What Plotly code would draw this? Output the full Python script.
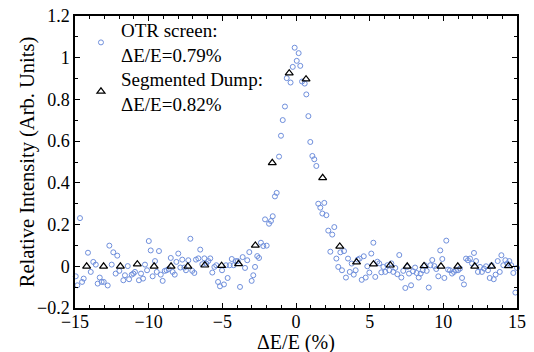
import plotly.graph_objects as go

# OTR screen data (ΔE/E %, relative intensity)
otr_x = [-14.95, -14.84, -14.66, -14.52, -14.41, -14.12, -13.93, -13.76, -13.59, -13.46,
         -13.32, -13.19, -13.05, -12.78, -12.67, -12.51, -12.40, -12.24, -12.13, -11.99,
         -11.72, -11.61, -11.42, -11.33, -11.15, -11.04, -10.93, -10.66, -10.52, -10.38,
         -10.25, -10.11, -9.99, -9.86, -9.73, -9.57, -9.45, -9.30, -9.18, -9.05,
         -8.91, -8.78, -8.64, -8.50, -8.37, -8.23, -8.12, -7.99, -7.85, -7.72,
         -7.58, -7.47, -7.31, -7.17, -7.04, -6.90, -6.79, -6.63, -6.50, -6.36,
         -6.22, -6.09, -5.95, -5.82, -5.68, -5.54, -5.41, -5.29, -5.16, -5.02,
         -4.89, -4.75, -4.64, -4.50, -4.36, -4.23, -4.09, -3.96, -3.80, -3.62,
         -3.46, -3.31, -3.17, -3.01, -2.90, -2.78, -2.63, -2.51, -2.38, -2.22,
         -2.10, -1.99, -1.83, -1.70, -1.58, -1.43, -1.31, -1.15, -1.02, -0.90,
         -0.75, -0.63, -0.37, -0.22, -0.09, 0.05, 0.18, 0.29, 0.41, 0.59,
         0.70, 0.84, 0.97, 1.11, 1.24, 1.38, 1.51, 1.65, 1.79, 1.92,
         2.06, 2.19, 2.33, 2.46, 2.60, 2.74, 2.87, 3.01, 3.12, 3.26,
         3.39, 3.53, 3.65, 3.78, 3.92, 4.05, 4.19, 4.32, 4.46, 4.60,
         4.73, 4.84, 4.98, 5.11, 5.25, 5.38, 5.52, 5.65, 5.79, 5.93,
         6.06, 6.20, 6.33, 6.47, 6.60, 6.74, 6.88, 7.01, 7.15, 7.28,
         7.42, 7.55, 7.67, 7.81, 7.94, 8.08, 8.19, 8.33, 8.46, 8.60,
         8.74, 8.87, 9.01, 9.12, 9.25, 9.39, 9.52, 9.66, 9.79, 9.93,
         10.07, 10.20, 10.32, 10.45, 10.59, 10.72, 10.86, 11.00, 11.13, 11.27,
         11.40, 11.54, 11.67, 11.81, 11.95, 12.08, 12.22, 12.35, 12.49, 12.62,
         12.76, 12.90, 13.03, 13.15, 13.28, 13.42, 13.55, 13.69, 13.83, 13.94,
         14.07, 14.21, 14.34, 14.48, 14.61, 14.75, 14.89, 15.00]
otr_y = [-0.048, -0.091, 0.231, -0.075, -0.059, 0.065, -0.027, 0.021, 0.008, -0.083,
         -0.054, -0.075, -0.075, -0.092, 0.099, 0.008, 0.067, -0.035, 0.051, -0.022,
         -0.067, -0.043, 0.001, -0.062, -0.040, -0.035, -0.027, -0.067, -0.035, -0.059,
         0.008, -0.019, 0.121, 0.076, -0.048, 0.025, -0.027, 0.073, -0.040, -0.070,
         -0.022, -0.019, -0.013, 0.040, -0.027, -0.040, 0.021, 0.061, -0.006, 0.032,
         -0.006, -0.019, 0.029, 0.132, -0.022, -0.032, 0.032, 0.038, 0.080, 0.010,
         0.038, 0.013, 0.025, 0.038, -0.030, -0.003, 0.005, -0.075, -0.096, -0.019,
         -0.087, 0.005, -0.056, 0.005, 0.035, 0.005, 0.025, 0.025, -0.099, 0.044,
         -0.008, 0.029, 0.068, -0.070, -0.043, -0.003, 0.049, 0.040, 0.113, 0.097,
         0.225, 0.099, 0.204, 0.217, 0.240, 0.335, 0.352, 0.526, 0.626, 0.701,
         0.766, 0.902, 0.881, 0.956, 1.048, 0.985, 1.022, 0.961, 0.886, 0.876,
         0.824, 0.720, 0.596, 0.529, 0.513, 0.481, 0.300, 0.281, 0.253, 0.304,
         0.245, 0.171, 0.070, 0.152, 0.188, 0.037, -0.003, 0.067, -0.019, 0.073,
         -0.054, 0.037, -0.027, 0.013, -0.040, -0.019, 0.032, 0.037, -0.065, 0.048,
         -0.054, 0.000, -0.030, 0.061, 0.113, -0.051, 0.022, 0.014, -0.029, -0.003,
         -0.027, 0.005, -0.019, 0.014, -0.027, -0.008, -0.038, 0.054, -0.054, -0.022,
         -0.104, -0.003, -0.035, -0.091, -0.024, -0.006, -0.032, -0.054, -0.035, -0.019,
         0.005, -0.022, -0.102, 0.005, 0.030, 0.001, -0.013, -0.048, 0.076, 0.035,
         -0.056, 0.123, -0.016, -0.019, -0.035, -0.027, -0.019, -0.019, -0.011, -0.056,
         -0.087, 0.037, 0.029, 0.037, 0.013, 0.064, 0.025, -0.027, -0.003, -0.027,
         -0.011, 0.000, -0.019, -0.056, 0.005, -0.062, -0.040, 0.025, -0.027, 0.053,
         0.005, 0.029, 0.013, 0.025, 0.005, -0.032, -0.126, -0.008]

# Segmented dump data
dump_x = [-14.21, -13.06, -11.92, -10.77, -9.63, -8.48, -7.34, -6.19, -5.05, -3.90,
          -2.76, -1.61, -0.46, 0.68, 1.81, 2.97, 4.11, 5.26, 6.40, 7.55,
          8.69, 9.84, 10.98, 12.13, 13.27, 14.42]
dump_y = [0.0, 0.0, 0.0, 0.01, 0.0, 0.0, 0.0, 0.005, 0.003, 0.012,
          0.10, 0.496, 0.926, 0.897, 0.424, 0.095, 0.02, 0.01, 0.005, 0.0,
          0.002, 0.0, 0.0, 0.0, 0.0, 0.002]

otr_label = "OTR screen:<br>ΔE/E=0.79%"
dump_label = "Segmented Dump:<br>ΔE/E=0.82%"
x_title = "ΔE/E (%)"
y_title = "Relative Intensity (Arb. Units)"

FONT = "Liberation Serif"

fig = go.Figure()
fig.add_trace(go.Scatter(
    x=otr_x, y=otr_y, mode="markers", name=otr_label, legend="legend",
    marker=dict(symbol="circle-open", size=5, color="#6f8fdc", line=dict(width=1)),
    cliponaxis=False,
))
fig.add_trace(go.Scatter(
    x=dump_x, y=dump_y, mode="markers", name=dump_label, legend="legend2",
    marker=dict(symbol="triangle-up-open", size=7, color="black", line=dict(width=1.2)),
    cliponaxis=False,
))

axis_common = dict(
    showline=True, linecolor="black", linewidth=1.5, mirror="ticks",
    ticks="inside", ticklen=5, tickcolor="black", tickwidth=1,
    showgrid=False, zeroline=False, automargin=False,
    tickfont=dict(family=FONT, size=18, color="black"),
)

fig.update_xaxes(
    range=[-15, 15], dtick=5, tick0=-15, ticklabelstandoff=-3,
    minor=dict(ticks="inside", ticklen=3, dtick=1, tickcolor="black"),
    **axis_common,
)
fig.update_yaxes(
    range=[-0.2, 1.2], dtick=0.2, tick0=0,
    minor=dict(ticks="inside", ticklen=3, dtick=0.1, tickcolor="black"),
    **axis_common,
)

legend_common = dict(
    xanchor="left", yanchor="top",
    bgcolor="rgba(0,0,0,0)", borderwidth=0,
    font=dict(family=FONT, size=19, color="black"),
    itemwidth=30,
)

fig.update_layout(
    width=534, height=352,
    margin=dict(l=75, r=17, t=15, b=44),
    paper_bgcolor="white", plot_bgcolor="white",
    font=dict(family=FONT, size=18, color="black"),
    legend=dict(x=0.0135, y=1.013, **legend_common),
    legend2=dict(x=0.0135, y=0.846, **legend_common),
    showlegend=True,
    annotations=[
        dict(text=x_title, xref="paper", yref="paper", x=0.5, y=-0.118,
             xanchor="center", yanchor="middle", showarrow=False,
             font=dict(family=FONT, size=20, color="black")),
        dict(text=y_title, xref="paper", yref="paper", x=-0.108, y=0.5,
             xanchor="center", yanchor="middle", textangle=-90, showarrow=False,
             font=dict(family=FONT, size=20.5, color="black")),
    ],
)

fig.write_html("out.html")
